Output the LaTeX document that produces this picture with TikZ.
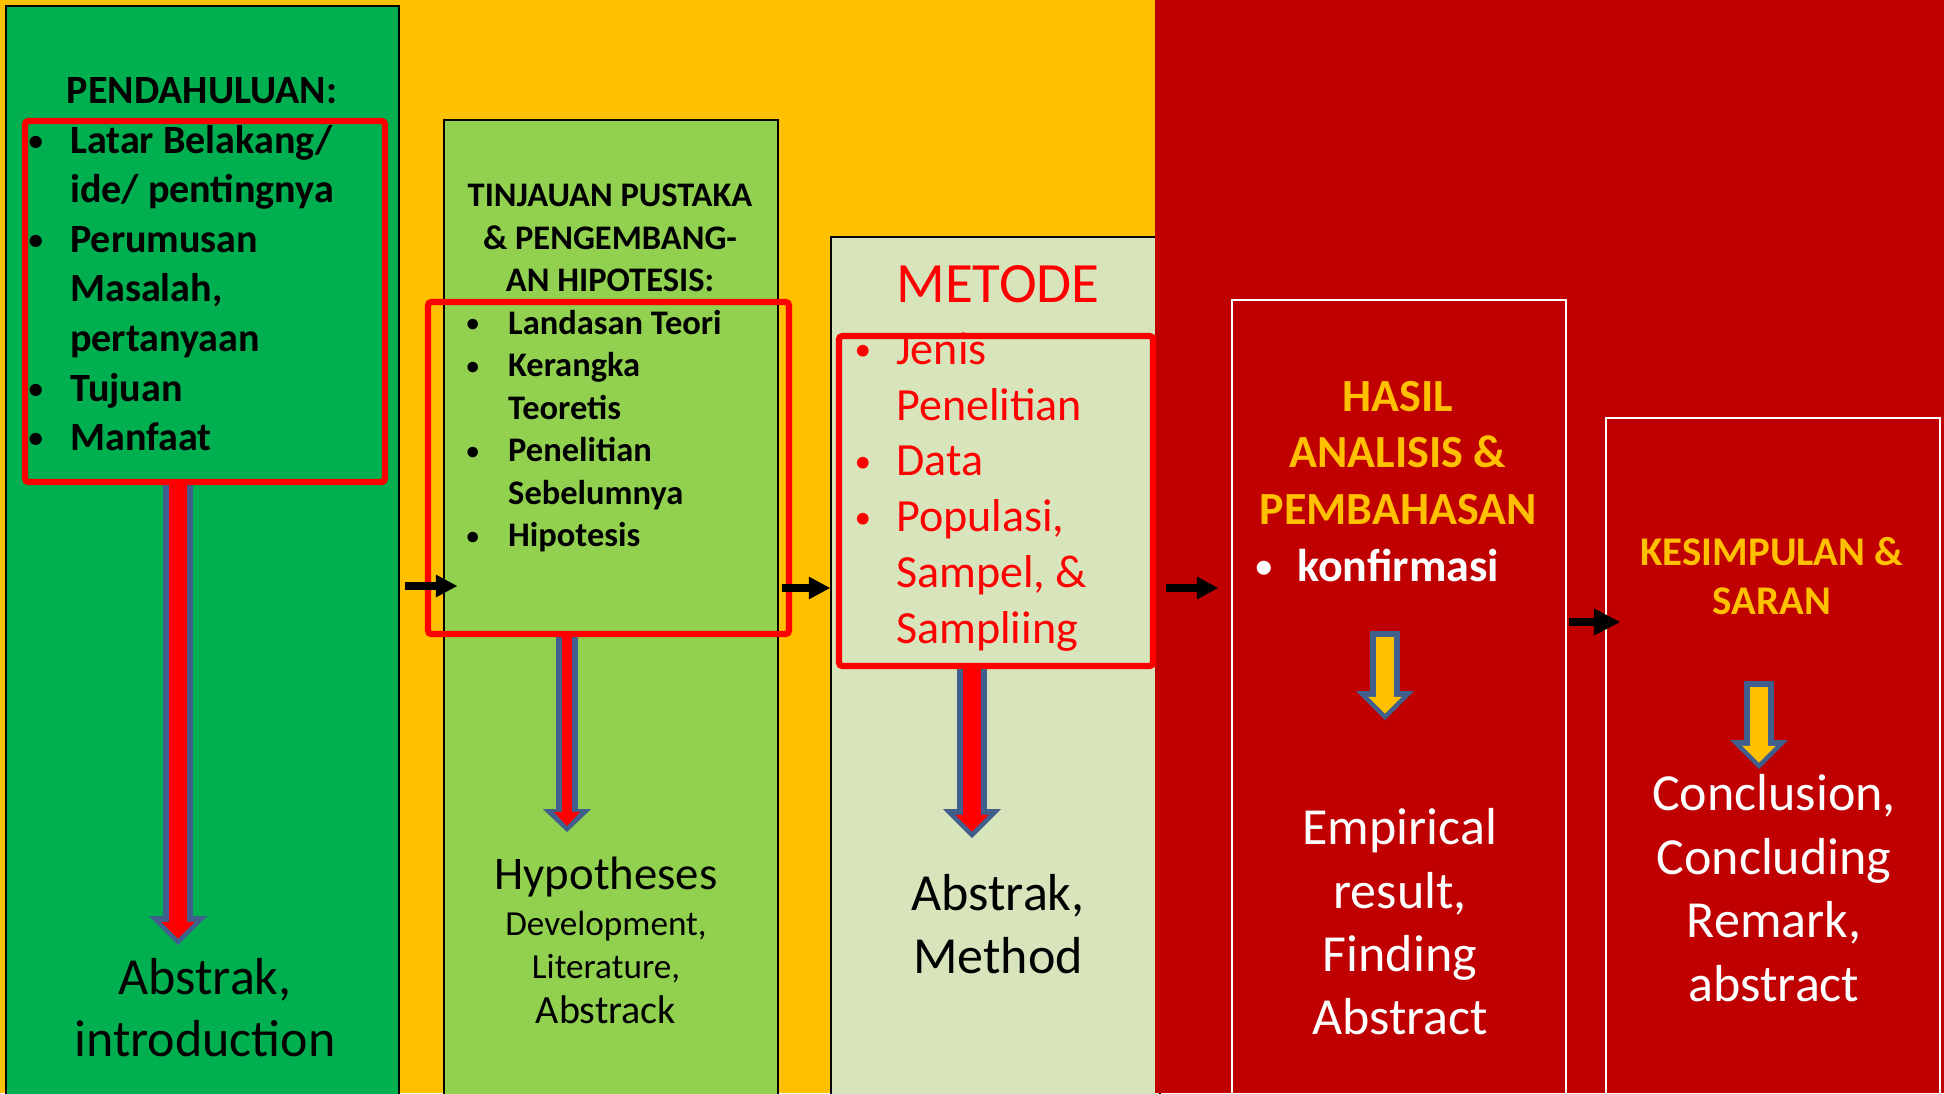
\documentclass[tikz,border=0pt]{standalone}
\usepackage{fontspec}
\usepackage{graphicx}
\setmainfont{Carlito}
\usetikzlibrary{fit,arrows.meta}

\definecolor{orangebg}{HTML}{FFC000}
\definecolor{darkred}{HTML}{C00000}
\definecolor{boxgreen}{HTML}{00B050}
\definecolor{lightgreen}{HTML}{92D050}
\definecolor{metodebg}{HTML}{D8E4BC}
\definecolor{framered}{HTML}{FF0000}
\definecolor{arrowblue}{RGB}{65,95,140}

\newcommand{\bul}{\makebox[11.8pt][l]{\raisebox{0.07em}{\scalebox{0.72}{\textbullet}}}}
\newcommand{\ind}{\hspace*{11.8pt}}
\newcommand{\fs}[2]{\fontsize{#1}{#2}\selectfont}

\begin{document}
\begin{tikzpicture}[x=0.01cm, y=-0.01cm]
        \tikzstyle{panel}=[inner sep=0pt, line width=0.6pt]
        \tikzstyle{frame}=[inner sep=0pt, draw=framered, line width=1.8pt, rounded corners=1pt]
        \tikzstyle{txt}=[inner sep=0pt, align=center]
        \tikzstyle{list}=[inner sep=0pt, align=left, anchor=west]
        \tikzstyle{flow}=[line width=2.3pt, -{Triangle[length=6pt,width=6.5pt,line width=0pt]}]
        \tikzstyle{flowbig}=[line width=2.3pt, -{Triangle[length=7.4pt,width=7.7pt,line width=0pt]}]
        \tikzstyle{outbig}=[draw=arrowblue, line width=8.3pt, -{Triangle[length=8.2pt,width=16.5pt,line width=0pt]}]
        \tikzstyle{inbig}=[line width=4.9pt, shorten >=1.8pt, -{Triangle[length=4.8pt,width=9.6pt,line width=0pt]}]
        \tikzstyle{outsmall}=[draw=arrowblue, line width=6.5pt, -{Triangle[length=6.5pt,width=13.7pt,line width=0pt]}]
        \tikzstyle{insmall}=[line width=3.1pt, shorten >=1.7pt, -{Triangle[length=4pt,width=7.4pt,line width=0pt]}]

        \useasboundingbox (0,0) rectangle (1944,1093);
        \clip (0,0) rectangle (1944,1093);
        \fill[orangebg] (0,0) rectangle (1155,1093);

        % columns
        \node[panel, fit={(6,6) (399,1100)}, draw=black, fill=boxgreen] (pend) {};
        \node[panel, fit={(444,120) (778,1100)}, draw=black, fill=lightgreen] (tinj) {};
        \node[panel, fit={(831,237) (1160,1100)}, draw=black, fill=metodebg] (metode) {};
        \fill[darkred] (1155,0) rectangle (1944,1093);
        \node[panel, fit={(1232,300) (1566,1100)}, draw=white, line width=0.7pt] (hasil) {};
        \node[panel, fit={(1606,418) (1940,1100)}, draw=white, line width=0.7pt] (kesim) {};

        % texts
        \node[txt, font=\fs{11.4}{13.7}\bfseries] (tpend) at (202,91) {PENDAHULUAN:};
        \node[list, font=\fs{11.4}{14.1}\bfseries] (lpend) at (28,288) {\bul Latar Belakang/\\ \ind ide/ pentingnya\\ \bul Perumusan\\ \ind Masalah,\\ \ind pertanyaan\\ \bul Tujuan\\ \bul Manfaat};
        \node[txt, font=\fs{14.8}{17.6}] (apend) at (205,1008) {Abstrak,\\introduction};

        \node[txt, font=\fs{9.8}{12}\bfseries] (ttinj) at (610,238) {TINJAUAN PUSTAKA\\\& PENGEMBANG-\\AN HIPOTESIS:};
        \node[list, font=\fs{9.8}{12.1}\bfseries] (ltinj) at (466,431) {\bul Landasan Teori\\ \bul Kerangka\\ \ind Teoretis\\ \bul Penelitian\\ \ind Sebelumnya\\ \bul Hipotesis};
        \node[txt, font=\fs{13.3}{16}] (htinj) at (606,877) {Hypotheses};
        \node[txt, font=\fs{10}{12.2}] (atinj) at (606,967) {Development,\\Literature,\\[0.6pt]{\fs{11.4}{13}Abstrack}};

        \node[txt, font=\fs{16.2}{19}, text=framered] (tmet) at (998,284) {METODE};
        \node[list, font=\fs{13.1}{15.9}, text=framered] (lmet) at (854,492) {\bul Jenis\\ \ind Penelitian\\ \bul Data\\ \bul Populasi,\\ \ind Sampel, \&\\ \ind Sampliing};
        \node[txt, font=\fs{14.8}{17.9}] (amet) at (998,924) {Abstrak,\\Method};

        \node[txt, font=\fs{13.1}{16}\bfseries, text=orangebg] (thasil) at (1398,453) {HASIL\\ANALISIS \&\\PEMBAHASAN};
        \node[list, font=\fs{13.1}{16}\bfseries, text=white] (lhasil) at (1255,565) {\bul konfirmasi};
        \node[txt, font=\fs{14.8}{18}, text=white] (ahasil) at (1400,922) {Empirical\\result,\\Finding\\Abstract};

        \node[txt, font=\fs{11.6}{13.7}\bfseries, text=orangebg] (tkesim) at (1772,576) {KESIMPULAN \&\\SARAN};
        \node[txt, font=\fs{14.8}{18.1}, text=white] (akesim) at (1774,888) {Conclusion,\\Concluding\\Remark,\\abstract};

        % red frames
        \node[frame, fit={(25,121) (385,482)}] (fpend) {};
        \node[frame, fit={(428,302) (789,634)}] (ftinj) {};
        \node[frame, fit={(839,336) (1153,666)}] (fmet) {};

        % block arrows
        \coordinate (tip1) at (178,945);
        \coordinate (tip2) at (567,832);
        \coordinate (tip3) at (972,838);
        \coordinate (ys1) at (1385,631);
        \coordinate (yt1) at (1385,720);
        \coordinate (ys2) at (1759,681);
        \coordinate (yt2) at (1759,769);
        \draw[outbig] (fpend.south -| tip1) -- (tip1);
        \draw[inbig, draw=framered] (fpend.south -| tip1) -- (tip1);
        \draw[outsmall] (ftinj.south -| tip2) -- (tip2);
        \draw[insmall, draw=framered] (ftinj.south -| tip2) -- (tip2);
        \draw[outbig] (fmet.south -| tip3) -- (tip3);
        \draw[inbig, draw=framered] (fmet.south -| tip3) -- (tip3);
        \draw[outbig] (ys1) -- (yt1);
        \draw[inbig, draw=orangebg, shorten <=1.7pt] (ys1) -- (yt1);
        \draw[outbig] (ys2) -- (yt2);
        \draw[inbig, draw=orangebg, shorten <=1.7pt] (ys2) -- (yt2);

        % flow arrows
        \coordinate (r1) at (0,586);
        \coordinate (r2) at (0,588);
        \coordinate (r4) at (0,622);
        \coordinate (e1) at (457,586);
        \coordinate (e3) at (1218,588);
        \coordinate (e4) at (1620,622);
        \draw[flow] (pend.east |- r1) ++(5,0) -- (e1);
        \draw[flow] (tinj.east |- r2) ++(3,0) -- (metode.west |- r2);
        \draw[flow] (metode.east |- r2) ++(5,0) -- (e3);
        \draw[flowbig] (hasil.east |- r4) ++(2,0) -- (e4);
\end{tikzpicture}
\end{document}
